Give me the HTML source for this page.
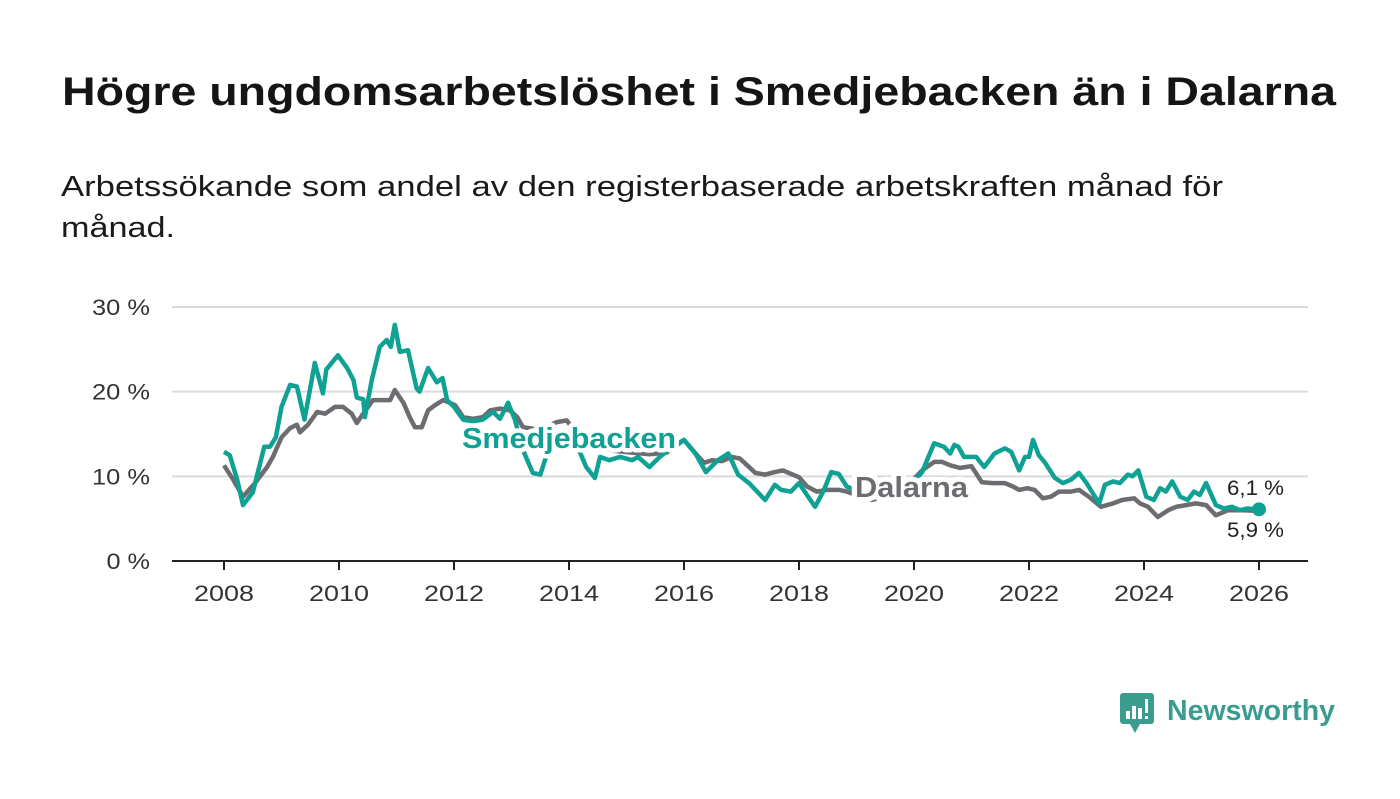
<!DOCTYPE html>
<html><head><meta charset="utf-8"><style>
body{margin:0;background:#fff;}
svg text{font-family:"Liberation Sans","DejaVu Sans",sans-serif;}
</style></head><body>
<svg id="chart" width="1400" height="794" viewBox="0 0 1400 794">
<text x="62" y="105" font-size="40" font-weight="bold" fill="#151515" textLength="1274" lengthAdjust="spacingAndGlyphs">Högre ungdomsarbetslöshet i Smedjebacken än i Dalarna</text>
<text x="61" y="196" font-size="29" fill="#1a1a1a" textLength="1162" lengthAdjust="spacingAndGlyphs">Arbetssökande som andel av den registerbaserade arbetskraften månad för</text>
<text x="61" y="237" font-size="29" fill="#1a1a1a" textLength="114" lengthAdjust="spacingAndGlyphs">månad.</text>
<g id="grid"></g>
<g id="xaxis"></g>
<g id="series"></g>
<g id="labels"></g>
<g>
<rect x="1120" y="693" width="34" height="31" rx="3" fill="#3a9c8f"/>
<polygon points="1130,724 1140,724 1135,733" fill="#3a9c8f"/>
<rect x="1126" y="711" width="4" height="8" fill="#fff"/><rect x="1132" y="706" width="4" height="13" fill="#fff"/><rect x="1138" y="708" width="4" height="11" fill="#fff"/><rect x="1145" y="699" width="3" height="14" fill="#fff"/><rect x="1145" y="716" width="3" height="3" fill="#fff"/>
<text x="1167" y="720" font-size="29" font-weight="bold" fill="#3a9c8f" textLength="168" lengthAdjust="spacingAndGlyphs">Newsworthy</text>
</g>
</svg>
<script>
const yTicks=[0,10,20,30];
const yTickLabels=["0 %","10 %","20 %","30 %"];
const xTicks=[2008,2010,2012,2014,2016,2018,2020,2022,2024,2026];
const smedT=[2008.0,2008.1,2008.23,2008.33,2008.5,2008.7,2008.8,2008.9,2009.0,2009.15,2009.27,2009.4,2009.58,2009.72,2009.78,2009.98,2010.14,2010.25,2010.31,2010.42,2010.45,2010.57,2010.71,2010.83,2010.9,2010.97,2011.06,2011.2,2011.35,2011.4,2011.55,2011.7,2011.8,2011.88,2012.0,2012.16,2012.33,2012.5,2012.68,2012.8,2012.94,2013.06,2013.2,2013.37,2013.5,2013.6,2013.8,2014.0,2014.15,2014.3,2014.45,2014.54,2014.7,2014.89,2015.1,2015.2,2015.4,2015.58,2015.8,2016.0,2016.2,2016.38,2016.59,2016.77,2016.94,2017.13,2017.41,2017.58,2017.69,2017.86,2018.0,2018.1,2018.28,2018.42,2018.56,2018.69,2018.83,2019.0,2019.3,2019.6,2019.9,2020.14,2020.35,2020.52,2020.63,2020.7,2020.77,2020.87,2021.08,2021.22,2021.4,2021.58,2021.69,2021.83,2021.93,2022.0,2022.07,2022.17,2022.28,2022.45,2022.59,2022.73,2022.87,2023.0,2023.22,2023.32,2023.46,2023.58,2023.72,2023.8,2023.9,2024.04,2024.17,2024.28,2024.38,2024.49,2024.63,2024.76,2024.87,2024.97,2025.08,2025.25,2025.39,2025.53,2025.67,2025.8,2026.0];
const smedV=[12.9,12.5,9.6,6.6,8.1,13.5,13.5,14.6,18.2,20.8,20.6,16.7,23.4,19.8,22.6,24.3,22.8,21.4,19.3,19.1,17.0,21.4,25.3,26.1,25.3,27.9,24.7,24.9,20.4,20.0,22.8,21.1,21.6,19.0,18.2,16.7,16.5,16.7,17.6,16.8,18.7,16.7,13.1,10.4,10.2,12.3,14.0,14.5,13.5,11.1,9.8,12.3,11.9,12.3,11.9,12.3,11.1,12.3,13.5,14.3,12.7,10.5,11.9,12.7,10.2,9.2,7.2,9.0,8.4,8.2,9.2,8.2,6.4,8.2,10.5,10.3,8.8,8.3,8.0,8.2,8.6,10.5,13.9,13.5,12.7,13.7,13.5,12.3,12.3,11.1,12.7,13.3,12.9,10.7,12.3,12.3,14.3,12.5,11.6,9.8,9.2,9.6,10.4,9.2,6.8,9.0,9.4,9.2,10.2,10.0,10.7,7.6,7.2,8.6,8.2,9.4,7.6,7.2,8.2,7.8,9.2,6.6,6.2,6.4,6.0,6.2,6.1];
const dalT=[2008.0,2008.16,2008.33,2008.54,2008.75,2008.85,2009.0,2009.15,2009.27,2009.32,2009.46,2009.62,2009.76,2009.93,2010.07,2010.22,2010.31,2010.42,2010.59,2010.89,2010.97,2011.12,2011.23,2011.32,2011.44,2011.55,2011.67,2011.81,2012.02,2012.16,2012.33,2012.5,2012.63,2012.8,2012.97,2013.1,2013.2,2013.5,2013.79,2013.96,2014.2,2014.5,2014.8,2015.1,2015.4,2015.7,2016.0,2016.2,2016.35,2016.49,2016.66,2016.83,2016.97,2017.1,2017.24,2017.41,2017.58,2017.72,2017.86,2018.0,2018.14,2018.31,2018.49,2018.7,2018.83,2019.0,2019.27,2019.6,2019.9,2020.14,2020.35,2020.49,2020.63,2020.8,2021.0,2021.18,2021.37,2021.58,2021.72,2021.83,2021.97,2022.1,2022.24,2022.38,2022.52,2022.73,2022.87,2023.04,2023.25,2023.46,2023.62,2023.83,2023.93,2024.07,2024.24,2024.42,2024.56,2024.73,2024.9,2025.08,2025.25,2025.46,2025.72,2026.0];
const dalV=[11.3,9.6,7.6,9.2,11.1,12.3,14.6,15.7,16.1,15.2,16.1,17.6,17.4,18.2,18.2,17.4,16.3,17.4,19.0,19.0,20.2,18.7,17.0,15.8,15.8,17.8,18.4,19.0,18.4,17.0,16.8,17.0,17.8,18.0,17.8,17.0,15.8,15.5,16.4,16.6,14.5,13.5,13.0,12.8,12.6,12.8,14.3,12.7,11.6,11.9,11.8,12.3,12.1,11.3,10.4,10.2,10.5,10.7,10.3,9.9,8.8,8.2,8.4,8.4,8.2,7.8,7.2,7.8,9.0,10.7,11.7,11.7,11.3,11.0,11.2,9.3,9.2,9.2,8.8,8.4,8.6,8.4,7.4,7.6,8.2,8.2,8.4,7.6,6.4,6.8,7.2,7.4,6.8,6.4,5.2,6.0,6.4,6.6,6.8,6.6,5.4,6.0,6.0,5.9];
const NS='http://www.w3.org/2000/svg';
const X0=172,X1=1308;
function xs(t){return 224+(t-2008)*57.5;}
function ys(v){return 561-v*8.467;}
function mk(tag,attrs,parent){const e=document.createElementNS(NS,tag);for(const k in attrs)e.setAttribute(k,attrs[k]);parent.appendChild(e);return e;}
const grid=document.getElementById('grid');
yTicks.forEach((v,i)=>{
 if(v>0){const l=mk('line',{x1:X0,x2:X1,y1:ys(v),y2:ys(v),stroke:'#d9d9d9','stroke-width':2},grid);
 
 }
 const t=mk('text',{x:150,y:ys(v)+8,'text-anchor':'end','font-size':22,fill:'#333',textLength:yTickLabels[i].length*14.5,lengthAdjust:'spacingAndGlyphs'},grid);
 t.textContent=yTickLabels[i];
 
 
});
const xa=document.getElementById('xaxis');
const base=mk('line',{x1:X0,x2:X1,y1:561,y2:561,stroke:'#222','stroke-width':2},xa);


xTicks.forEach(y=>{
 mk('line',{x1:xs(y),x2:xs(y),y1:561,y2:570,stroke:'#222','stroke-width':2},xa);
 const t=mk('text',{x:xs(y),y:601,'text-anchor':'middle','font-size':22,fill:'#333',textLength:60,lengthAdjust:'spacingAndGlyphs'},xa);
 t.textContent=y;
 
 
});
function path(T,V){return T.map((t,i)=>(i?'L':'M')+xs(t).toFixed(1)+','+ys(V[i]).toFixed(1)).join('');}
const s=document.getElementById('series');
const pd=mk('path',{d:path(dalT,dalV),fill:'none',stroke:'#6d6c70','stroke-width':4.5,'stroke-linejoin':'round'},s);


const ps=mk('path',{d:path(smedT,smedV),fill:'none',stroke:'#0fa193','stroke-width':4.5,'stroke-linejoin':'round'},s);


const dot=mk('circle',{cx:xs(smedT[smedT.length-1]),cy:ys(smedV[smedV.length-1]),r:7,fill:'#0fa193'},s);


const lab=document.getElementById('labels');
function label(x,y,txt,fill,name,size,bold,halo,len){
 const t=mk('text',{x:x,y:y,'font-size':size,'font-weight':bold?'bold':'normal',fill:fill,stroke:'#fff','stroke-width':halo,'paint-order':'stroke','stroke-linejoin':'round',textLength:len,lengthAdjust:'spacingAndGlyphs'},lab);
 t.textContent=txt;
 
 
 return t;
}
label(462,448,'Smedjebacken','#0fa193','smedjebacken-label',29,true,9,214);
label(855,497,'Dalarna','#6d6c70','dalarna-label',29,true,10,113);
label(1227,495,'6,1 %','#222','smedjebacken-end-value',21,false,6,57);
label(1227,537,'5,9 %','#222','dalarna-end-value',21,false,6,57);
</script>
</body></html>
